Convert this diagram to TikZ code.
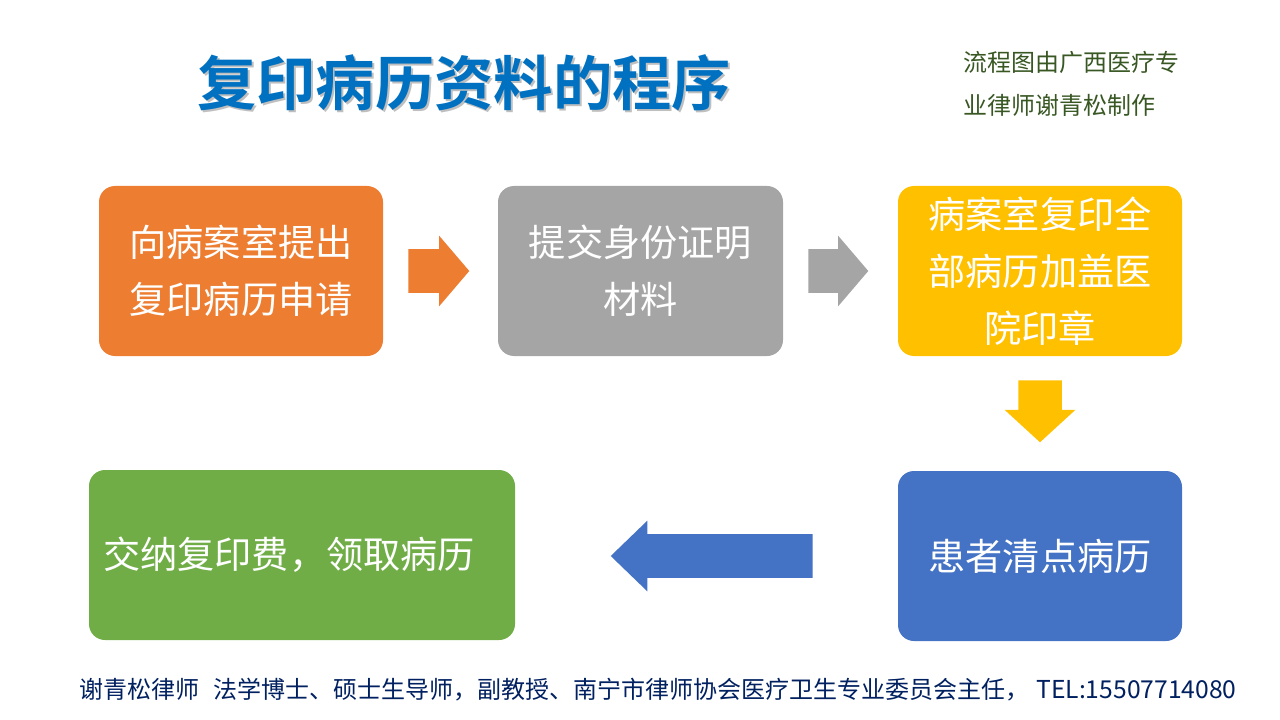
\documentclass[tikz,border=0pt]{standalone}
\usepackage{fontspec}
\setmainfont{Carlito}
\newfontfamily\cjk{Noto Sans CJK SC}
\newfontfamily\cjkbold{Noto Sans CJK SC Bold}
\usetikzlibrary{shapes.arrows}
\definecolor{boxorange}{HTML}{ED7D31}
\definecolor{boxgray}{HTML}{A5A5A5}
\definecolor{boxyellow}{HTML}{FFC000}
\definecolor{boxblue}{HTML}{4472C4}
\definecolor{boxgreen}{HTML}{70AD47}
\definecolor{titleblue}{HTML}{0070C0}
\definecolor{notegreen}{HTML}{385723}
\definecolor{footnavy}{HTML}{002060}
\tikzset{
  stepbox/.style={rounded corners=12pt, inner sep=0pt, text=white, align=center,
    font=\cjk\fontsize{27.9}{43}\selectfont},
  blockarrow/.style={single arrow, anchor=tail, inner sep=0pt, text height=32.25pt, text depth=0pt, text width=1pt,
    single arrow head extend=10.125pt, single arrow tip angle=99, rotate=#1}
}
\begin{document}
\begin{tikzpicture}[x=.75pt,y=-.75pt]
\useasboundingbox (0,0) rectangle (1280,720);
\node [text=black!25, font=\cjkbold\fontsize{44.5}{50}\selectfont] (titleshadow) at (466,85) {复印病历资料的程序};
\node [text=titleblue, font=\cjkbold\fontsize{44.5}{50}\selectfont] (title) at (464,83) {复印病历资料的程序};
\node [text=notegreen, anchor=west, inner sep=0pt, align=left, font=\cjk\fontsize{18}{32.5}\selectfont] (note) at (963,84) {流程图由广西医疗专\\业律师谢青松制作};
% five steps
\node [stepbox, fill=boxorange, minimum width=213pt, minimum height=127.5pt] (apply) at (241,271) {向病案室提出\\复印病历申请};
\node [stepbox, fill=boxgray, minimum width=213.75pt, minimum height=127.5pt] (idproof) at (640.5,271) {提交身份证明\\材料};
\node [stepbox, fill=boxyellow, minimum width=213pt, minimum height=127.5pt] (copying) at (1040,271) {病案室复印全\\部病历加盖医\\院印章};
\node [stepbox, fill=boxblue, minimum width=213pt, minimum height=127.5pt] (check) at (1040,556) {患者清点病历};
\node [stepbox, fill=boxgreen, minimum width=319.5pt, minimum height=127.5pt] (collect) at (302,555) {\raisebox{-3pt}{交纳复印费，领取病历}\hspace*{19.5pt}};
% arrows between them
\node [blockarrow=0, fill=boxorange, minimum height=45.75pt] (arrowa) at (408,271) {};
\node [blockarrow=0, fill=boxgray, minimum height=45pt] (arrowb) at (808,271) {};
\node [blockarrow=-90, single arrow tip angle=95, fill=boxyellow, minimum height=46.5pt] (arrowc) at (1040,380) {};
\node [blockarrow=180, single arrow tip angle=88, fill=boxblue, minimum height=151.5pt] (arrowd) at (813,556) {};
\node [text=footnavy, anchor=west, inner sep=0pt, font=\cjk\fontsize{18}{20}\selectfont] (footer) at (79,690) {谢青松律师\hspace{.58em}法学博士、硕士生导师，副教授、南宁市律师协会医疗卫生专业委员会主任，\hspace{.3em}{\fontsize{18.5}{20}\selectfont TEL:15507714080}};
\end{tikzpicture}
\end{document}
